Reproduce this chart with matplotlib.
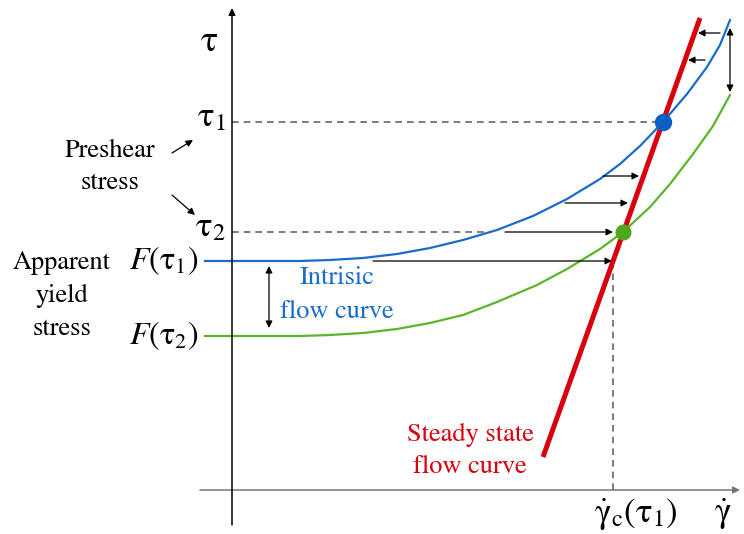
import matplotlib.pyplot as plt

plt.rcParams['font.family'] = 'STIXGeneral'
plt.rcParams['mathtext.fontset'] = 'stix'

# schematic coordinates, origin at the axis crossing
blue_x = [-27, 68, 98, 131, 165, 198, 231, 265, 301, 335, 368, 388, 408, 431, 455, 475, 488, 498]
blue_y = [229, 229, 230, 232, 236, 242, 250, 260, 274, 291, 311, 326, 344, 368, 396, 423, 445, 470]
green_x = [-27, 68, 98, 131, 165, 198, 231, 265, 305, 335, 368, 391, 418, 438, 461, 481, 498]
green_y = [154, 154, 155, 157, 161, 167, 175, 188, 205, 221, 241, 258, 283, 306, 336, 364, 395]
red_x = [311, 468]
red_y = [33, 472]

tau1, tau2 = 368, 258          # preshear stress levels
f_tau1, f_tau2 = 229, 154      # apparent yield stresses
dot_tau1_x, dot_tau2_x = 431, 391
gamma_c = 381

# horizontal arrows towards the steady state curve (start x, end x, y)
right_arrows = [(141, 380, 229), (273, 381, 258), (333, 396, 287), (371, 407, 314)]
left_arrows = [(473, 456, 430), (488, 466, 457)]

BLUE = '#1a6ccc'
GREEN = '#5ab52a'
RED = '#d9000d'
GRAY = '#666666'

fig = plt.figure(figsize=(7.44, 5.34), dpi=100)
ax = fig.add_axes([0, 0, 1, 1])
ax.set_xlim(-232, 512)
ax.set_ylim(-44, 490)
ax.axis('off')

arr = dict(arrowstyle='-|>', mutation_scale=10, lw=0.9, color='black',
           shrinkA=0, shrinkB=0)

# axes
ax.annotate('', xy=(508, 0), xytext=(-32, 0),
            arrowprops=dict(arr, color='#777777', lw=1.1))
ax.annotate('', xy=(0, 482), xytext=(0, -35), arrowprops=dict(arr, lw=1.1))

# dashed guides
ax.plot([0, dot_tau1_x], [tau1, tau1], ls=(0, (4, 3)), color=GRAY, lw=1.2)
ax.plot([0, 258], [tau2, tau2], ls=(0, (4, 3)), color=GRAY, lw=1.2)
ax.plot([gamma_c, gamma_c], [0, f_tau1], ls=(0, (4, 3)), color=GRAY, lw=1.2)

# curves
ax.plot(blue_x, blue_y, color=BLUE, lw=1.6, solid_joinstyle='round')
ax.plot(green_x, green_y, color=GREEN, lw=1.6, solid_joinstyle='round')
ax.plot(red_x, red_y, color=RED, lw=3.6, solid_capstyle='butt')
ax.plot([dot_tau1_x], [tau1], 'o', color='#0b5fc4', ms=11.5, zorder=5)
ax.plot([dot_tau2_x], [tau2], 'o', color='#4ea81c', ms=10.5, zorder=5)

# arrows
for x0, x1, y in right_arrows + left_arrows:
    ax.annotate('', xy=(x1, y), xytext=(x0, y), arrowprops=arr)
ax.annotate('', xy=(498, 462), xytext=(498, 398), arrowprops=dict(arr, arrowstyle='<|-|>'))
ax.annotate('', xy=(37, 224), xytext=(37, 162), arrowprops=dict(arr, arrowstyle='<|-|>'))
ax.annotate('', xy=(-39, 350), xytext=(-60, 337), arrowprops=arr)
ax.annotate('', xy=(-37, 275), xytext=(-60, 295), arrowprops=arr)

# labels
ax.text(-22, 448, 'τ', fontsize=26, ha='center', va='center')
ax.text(-6, tau1 + 4, r'$\mathrm{\tau}_1$', fontsize=25, ha='right', va='center')
ax.text(-6, tau2 + 4, r'$\mathrm{\tau}_2$', fontsize=25, ha='right', va='center')
ax.text(-33, f_tau1, r'$F(\mathrm{\tau}_1)$', fontsize=23, ha='right', va='center')
ax.text(-33, f_tau2, r'$F(\mathrm{\tau}_2)$', fontsize=23, ha='right', va='center')
ax.text(-122, 323, 'Preshear\nstress', fontsize=19, ha='center', va='center',
        linespacing=1.45)
ax.text(-170, 194, 'Apparent\nyield\nstress', fontsize=19, ha='center', va='center',
        linespacing=1.5)
ax.text(105, 195, 'Intrisic\nflow curve', fontsize=19, ha='center', va='center',
        color=BLUE, linespacing=1.5)
ax.text(238, 39, 'Steady state\nflow curve', fontsize=19, ha='center', va='center',
        color=RED, linespacing=1.4)
ax.text(362, -24, r'$\dot{\mathrm{\gamma}}_{\mathrm{c}}(\mathrm{\tau}_1)$', fontsize=25,
        ha='left', va='center')
ax.text(491, -24, r'$\dot{\mathrm{\gamma}}$', fontsize=25, ha='center', va='center')

fig.savefig('out.png', dpi=100)
